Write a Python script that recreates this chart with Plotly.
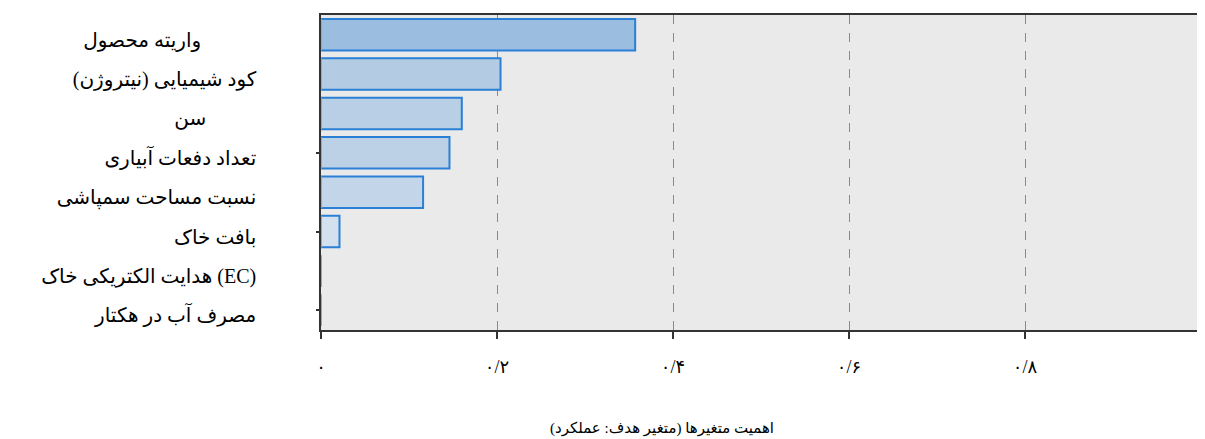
import plotly.graph_objects as go

categories = [
    "واریته محصول",
    "کود شیمیایی (نیتروژن)",
    "سن",
    "تعداد دفعات آبیاری",
    "نسبت مساحت سمپاشی",
    "بافت خاک",
    "هدایت الکتریکی خاک (EC)",
    "مصرف آب در هکتار",
]
importance = [0.357, 0.204, 0.160, 0.146, 0.116, 0.021, 0.0, 0.0]
bar_fills = ["#9bbde0", "#b3cbe3", "#b9cfe5", "#bdd1e6", "#c3d5e8", "#d3e0ee", "#dde6f0", "#e2e9f1"]
x_tickvals = [0, 0.2, 0.4, 0.6, 0.8, 1.0]
x_ticktext = ["۰", "۰/۲", "۰/۴", "۰/۶", "۰/۸", "۱"]
x_title = "اهمیت متغیرها (متغیر هدف: عملکرد)"
minor_tick_cats = [categories[3], categories[5], categories[7]]

# the source image shows two labels set in from the common right edge
label_indent = {categories[0]: 11, categories[2]: 10}
y_ticktext = [c + "\u00a0" * label_indent.get(c, 0) for c in categories]

FONT = "Liberation Serif, DejaVu Sans, serif"

fig = go.Figure()
fig.add_trace(go.Bar(
    x=importance, y=categories, orientation="h",
    marker=dict(color=bar_fills, line=dict(color="#2a80d6", width=2)),
    width=0.8, showlegend=False, hoverinfo="x+y",
))
# invisible trace to carry the secondary y axis (left-side small ticks)
fig.add_trace(go.Bar(
    x=[0] * len(categories), y=categories, orientation="h", yaxis="y2",
    marker=dict(color="rgba(0,0,0,0)"), showlegend=False, hoverinfo="skip",
))

fig.update_layout(
    width=1205, height=439,
    margin=dict(l=313, r=12, t=7, b=117, autoexpand=False),
    paper_bgcolor="white",
    plot_bgcolor="#eaeaea",
    font=dict(family=FONT, size=18, color="black"),
    bargap=0.2,
    xaxis=dict(
        range=[0, 1.0], tickvals=x_tickvals, ticktext=x_ticktext,
        showgrid=True, gridcolor="#8a8a8a", griddash="dash", gridwidth=1,
        zeroline=False, automargin=False,
        showline=True, linecolor="#333333", linewidth=2, mirror=True,
        ticks="outside", ticklen=7, tickcolor="#333333", tickwidth=1.5,
        ticklabelstandoff=12,
        tickfont=dict(family=FONT, size=18, color="black"),
    ),
    yaxis=dict(
        type="category", categoryorder="array", categoryarray=categories,
        tickvals=categories, ticktext=y_ticktext,
        range=[7.5, -0.5], automargin=False,
        showgrid=False, zeroline=False,
        showline=True, linecolor="#333333", linewidth=1.5, mirror=True,
        ticks="", ticklabelstandoff=59, ticklabelshift=-5,
        tickfont=dict(family=FONT, size=20, color="black"),
    ),
    yaxis2=dict(
        type="category", categoryorder="array", categoryarray=categories,
        range=[7.5, -0.5], overlaying="y", side="left", anchor="x",
        tickvals=minor_tick_cats, showticklabels=False, automargin=False,
        ticks="outside", ticklen=4, tickcolor="#333333", tickwidth=1.5,
        showgrid=False, zeroline=False, showline=False,
    ),
    annotations=[dict(
        text=x_title, xref="paper", yref="paper", x=(662 - 321) / 880, y=0,
        yshift=-98, xanchor="center", yanchor="middle", showarrow=False,
        font=dict(family=FONT, size=15, color="black"),
    )],
)

fig.write_html("out.html")
